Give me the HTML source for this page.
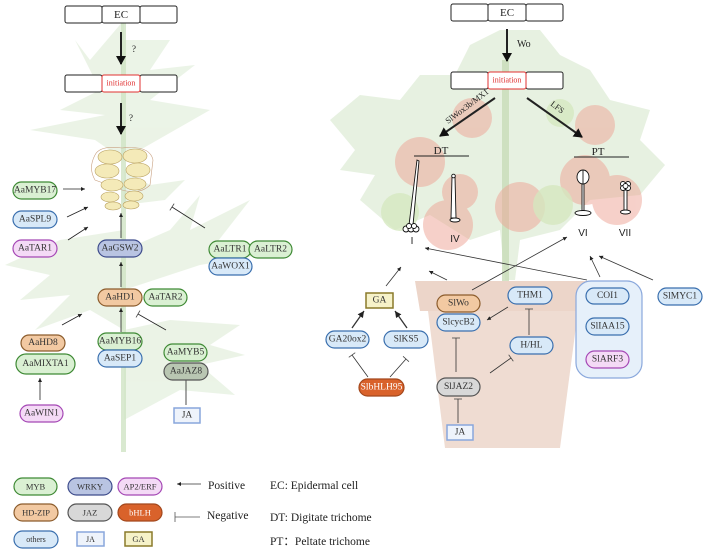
<!DOCTYPE html>
<html><head><meta charset="utf-8"><style>
body{margin:0;background:#fff}
svg{display:block;font-family:"Liberation Serif",serif}
.t{font-size:9.5px;text-anchor:middle;dominant-baseline:central;fill:#333}
</style></head><body>
<svg width="705" height="552" viewBox="0 0 705 552" xmlns="http://www.w3.org/2000/svg">
<defs>
<marker id="a" markerWidth="6" markerHeight="6" refX="5" refY="3" orient="auto"><path d="M0,0.5 L5,3 L0,5.5z" fill="#222"/></marker>
<marker id="A" markerWidth="5" markerHeight="5" refX="4" refY="2.5" orient="auto"><path d="M0,0 L4.5,2.5 L0,5z" fill="#111"/></marker>
<marker id="b" markerWidth="2" markerHeight="10" refX="1" refY="5" orient="auto"><path d="M1,0 L1,10" stroke="#444" stroke-width="1"/></marker>
</defs>

<g opacity="0.5" fill="#d8e9cf" stroke="none">
<path d="M124,20 L90,60 L75,40 L100,90 L60,110 L105,115 L30,130 L95,140 L124,160z"/>
<path d="M124,40 L170,40 L150,70 L195,65 L150,100 L210,110 L140,150 L124,150z"/>
<path d="M124,230 L60,240 L5,265 L50,275 L20,300 L70,295 L35,330 L90,310 L124,330z"/>
<path d="M124,250 L170,230 L200,195 L190,230 L250,200 L215,245 L260,255 L200,265 L124,290z"/>
<path d="M124,330 L170,320 L240,325 L210,345 L245,355 L200,365 L235,395 L180,390 L124,420z"/>
<path d="M124,170 L150,185 L185,180 L165,200 L124,205z"/>
</g>
<rect x="121" y="20" width="5" height="432" fill="#cfe4c4" opacity="0.8"/>

<g opacity="0.55" fill="#d4e6c8">
<path d="M500,30 L470,45 L455,75 L420,75 L400,100 L360,95 L330,120 L355,150 L340,170 L375,175 L360,200 L395,230 L430,215 L470,240 L500,230 L505,280 L515,280 L520,240 L560,230 L590,200 L640,195 L665,165 L640,140 L650,110 L610,100 L590,70 L560,55 L540,30z"/>
</g>
<rect x="502" y="60" width="7" height="222" fill="#c8dcb8" opacity="0.8"/>
<g fill="#eea395" opacity="0.5">
<circle cx="420" cy="162" r="25"/><circle cx="472" cy="118" r="20"/><circle cx="460" cy="192" r="18"/>
<circle cx="448" cy="225" r="25"/><circle cx="520" cy="207" r="25"/><circle cx="595" cy="125" r="20"/>
<circle cx="585" cy="180" r="25"/><circle cx="617" cy="200" r="25"/>
</g>
<g fill="#d6e8c0" opacity="0.8"><circle cx="400" cy="212" r="19"/><circle cx="553" cy="205" r="20"/><circle cx="560" cy="113" r="14"/></g>

<path d="M428,311 L445,448 L560,448 L578,311z" fill="#efdcd2"/>
<path d="M415,281 L622,281 L618,311 L420,311z" fill="#ecd5c9"/>

<g stroke="#222" stroke-width="1" fill="#fff">
<rect x="65" y="6" width="37" height="17" rx="2"/><rect x="102" y="6" width="38" height="17" rx="2"/><rect x="140" y="6" width="37" height="17" rx="2"/>
<rect x="65" y="75" width="37" height="17" rx="2"/><rect x="140" y="75" width="37" height="17" rx="2"/>
</g>
<rect x="102" y="75" width="38" height="17" rx="2" fill="#fff" stroke="#e03030"/>
<text x="121" y="15" class="t" style="font-size:11px;fill:#222">EC</text>
<text x="121" y="83" class="t" style="font-size:8px;fill:#e03030">initiation</text>
<line x1="121" y1="32" x2="121" y2="64" stroke="#222" stroke-width="2" marker-end="url(#A)"/>
<line x1="121" y1="103" x2="121" y2="134" stroke="#222" stroke-width="2" marker-end="url(#A)"/>
<text x="132" y="52" style="font-size:9px;fill:#222">?</text>
<text x="129" y="121" style="font-size:9px;fill:#222">?</text>

<path d="M95,155 Q100,145 122,148 Q150,145 153,160 L150,185 Q140,195 122,190 L95,180 Q88,168 95,155z" fill="none" stroke="#c8a080" stroke-width="0.6"/>
<g fill="#f4eab8" stroke="#b8a060" stroke-width="0.6">
<ellipse cx="110" cy="157" rx="12" ry="7"/><ellipse cx="107" cy="171" rx="12" ry="7"/><ellipse cx="112" cy="185" rx="11" ry="6"/><ellipse cx="110" cy="197" rx="9" ry="5"/><ellipse cx="113" cy="206" rx="8" ry="4"/>
<ellipse cx="135" cy="156" rx="12" ry="7"/><ellipse cx="138" cy="170" rx="12" ry="7"/><ellipse cx="135" cy="184" rx="11" ry="6"/><ellipse cx="134" cy="196" rx="9" ry="5"/><ellipse cx="131" cy="205" rx="8" ry="4"/>
</g>

<g stroke="#222" stroke-width="0.8" fill="none">
<line x1="63" y1="189" x2="85" y2="189" marker-end="url(#a)"/>
<line x1="67" y1="217" x2="88" y2="207" marker-end="url(#a)"/>
<line x1="68" y1="240" x2="88" y2="227" marker-end="url(#a)"/>
<line x1="121" y1="238" x2="121" y2="213" marker-end="url(#a)"/>
<line x1="121" y1="287" x2="121" y2="262" marker-end="url(#a)"/>
<line x1="121" y1="332" x2="121" y2="308" marker-end="url(#a)"/>
<line x1="62" y1="325" x2="82" y2="314" marker-end="url(#a)"/>
<line x1="40" y1="400" x2="40" y2="378" marker-end="url(#a)"/>
<line x1="205" y1="228" x2="172" y2="207" marker-end="url(#b)"/>
<line x1="166" y1="330" x2="138" y2="314" marker-end="url(#b)"/>
<line x1="186" y1="405" x2="186" y2="371" marker-end="url(#b)"/>
</g>

<g stroke-width="1.2">
<g fill="#daf0d3" stroke="#3f8a35">
<rect x="13" y="182" width="44" height="17" rx="8.5"/>
<rect x="209" y="241" width="42" height="17" rx="8.5"/><rect x="249" y="241" width="43" height="17" rx="8.5"/>
<rect x="144" y="289" width="43" height="17" rx="8.5"/>
<rect x="98" y="333" width="44" height="17" rx="8.5"/>
<rect x="164" y="344" width="43" height="17" rx="8.5"/>
<rect x="16" y="354" width="59" height="20" rx="10"/>
<rect x="14" y="478" width="43" height="17" rx="8.5"/>
</g>
<g fill="#d8e9f8" stroke="#3a6fae">
<rect x="13" y="211" width="44" height="17" rx="8.5"/>
<rect x="209" y="258" width="43" height="17" rx="8.5"/>
<rect x="98" y="350" width="44" height="17" rx="8.5"/>
<rect x="326" y="331" width="43" height="17" rx="8.5"/><rect x="384" y="331" width="44" height="17" rx="8.5"/>
<rect x="437" y="314" width="43" height="17" rx="8.5"/>
<rect x="508" y="287" width="44" height="17" rx="8.5"/><rect x="510" y="337" width="43" height="17" rx="8.5"/>
<rect x="576" y="281" width="66" height="97" rx="15" fill="#e6f0fa" stroke="#8aa8dc"/>
<rect x="586" y="288" width="43" height="16" rx="8"/><rect x="586" y="318" width="43" height="17" rx="8.5"/>
<rect x="658" y="288" width="44" height="17" rx="8.5"/>
<rect x="14" y="531" width="44" height="17" rx="8.5"/>
</g>
<g fill="#f4daf6" stroke="#a548b5">
<rect x="13" y="240" width="44" height="17" rx="8.5"/><rect x="20" y="405" width="43" height="17" rx="8.5"/>
<rect x="586" y="351" width="43" height="17" rx="8.5"/><rect x="118" y="478" width="44" height="17" rx="8.5"/>
</g>
<g fill="#b9c4e2" stroke="#3e4c8c"><rect x="98" y="240" width="44" height="17" rx="8.5"/><rect x="68" y="478" width="44" height="17" rx="8.5"/></g>
<g fill="#f2c9a2" stroke="#8c5c2c"><rect x="98" y="289" width="44" height="17" rx="8.5"/><rect x="21" y="335" width="44" height="16" rx="8"/><rect x="437" y="295" width="43" height="17" rx="8.5"/><rect x="14" y="504" width="44" height="17" rx="8.5"/></g>
<g fill="#d8d8d8" stroke="#555"><rect x="164" y="363" width="44" height="17" rx="8.5" fill="#b9c6b2"/><rect x="437" y="378" width="43" height="18" rx="9"/><rect x="68" y="504" width="44" height="17" rx="8.5"/></g>
<g fill="#d9622b" stroke="#a3481d"><rect x="359" y="379" width="45" height="17" rx="8.5"/><rect x="118" y="504" width="44" height="17" rx="8.5"/></g>
<g fill="#eef3fb" stroke="#88a6dc" stroke-width="1.5"><rect x="174" y="408" width="26" height="15"/><rect x="447" y="425" width="26" height="15"/><rect x="77" y="532" width="27" height="14"/></g>
<g fill="#f6f2c9" stroke="#8a7a2a" stroke-width="1.5"><rect x="366" y="293" width="27" height="15"/><rect x="125" y="532" width="27" height="14"/></g>
</g>

<text x="35" y="190.5" class="t">AaMYB17</text>
<text x="35" y="219.5" class="t">AaSPL9</text>
<text x="35" y="248.5" class="t">AaTAR1</text>
<text x="120" y="248.5" class="t">AaGSW2</text>
<text x="230" y="249.5" class="t">AaLTR1</text><text x="270.5" y="249.5" class="t">AaLTR2</text>
<text x="230.5" y="266.5" class="t">AaWOX1</text>
<text x="120" y="297.5" class="t">AaHD1</text><text x="165.5" y="297.5" class="t">AaTAR2</text>
<text x="120" y="341.5" class="t">AaMYB16</text><text x="120" y="358.5" class="t">AaSEP1</text>
<text x="185.5" y="352.5" class="t">AaMYB5</text><text x="186" y="371.5" class="t">AaJAZ8</text>
<text x="187" y="415.5" class="t">JA</text>
<text x="43" y="343" class="t">AaHD8</text><text x="45.5" y="364" class="t">AaMIXTA1</text>
<text x="41.5" y="413.5" class="t">AaWIN1</text>

<g stroke="#222" stroke-width="1" fill="#fff">
<rect x="451" y="4" width="37" height="17" rx="2"/><rect x="488" y="4" width="38" height="17" rx="2"/><rect x="526" y="4" width="37" height="17" rx="2"/>
<rect x="451" y="72" width="37" height="17" rx="2"/><rect x="526" y="72" width="37" height="17" rx="2"/>
</g>
<rect x="488" y="72" width="38" height="17" rx="2" fill="#fff" stroke="#e03030"/>
<text x="507" y="13" class="t" style="font-size:11px;fill:#222">EC</text>
<text x="507" y="80" class="t" style="font-size:8px;fill:#e03030">initiation</text>
<line x1="507" y1="29" x2="507" y2="61" stroke="#222" stroke-width="2" marker-end="url(#A)"/>
<text x="517" y="47" style="font-size:10px;fill:#222">Wo</text>
<line x1="495" y1="98" x2="440" y2="136" stroke="#222" stroke-width="2" marker-end="url(#A)"/>
<line x1="527" y1="98" x2="582" y2="137" stroke="#222" stroke-width="2" marker-end="url(#A)"/>
<text x="0" y="0" transform="translate(448,124) rotate(-37)" style="font-size:8.5px;fill:#222">SlWox3b/MX1</text>
<text x="0" y="0" transform="translate(550,105) rotate(37)" style="font-size:8.5px;fill:#222">LFS</text>
<text x="441" y="151" class="t" style="font-size:11px;fill:#222">DT</text>
<line x1="414" y1="156" x2="469" y2="156" stroke="#222" stroke-width="1"/>
<text x="598" y="152" class="t" style="font-size:11px;fill:#222">PT</text>
<line x1="574" y1="157" x2="629" y2="157" stroke="#222" stroke-width="1"/>

<g fill="#fff" stroke="#111" stroke-width="0.9">
<path d="M417,160 L419,161 L413,225 L409,225z"/>
<circle cx="406" cy="229" r="3"/><circle cx="411" cy="229" r="3"/><circle cx="416" cy="229" r="3"/><circle cx="409" cy="226" r="2.5"/><circle cx="414" cy="226" r="2.5"/>
<path d="M452,177 L455,177 L456,218 L451,218z"/><circle cx="453.5" cy="176" r="1.8"/><ellipse cx="455" cy="220" rx="5" ry="2"/>
<path d="M582,180 L584,180 L584,212 L582,212z"/><ellipse cx="583" cy="177" rx="6" ry="7"/><line x1="583" y1="170" x2="583" y2="184"/><ellipse cx="583" cy="213" rx="8" ry="2.5"/>
<path d="M624,190 L627,190 L627,211 L624,211z"/><circle cx="623" cy="184" r="2.5"/><circle cx="628" cy="184" r="2.5"/><circle cx="623" cy="188" r="2.5"/><circle cx="628" cy="188" r="2.5"/><circle cx="625.5" cy="186" r="2.5"/><ellipse cx="625.5" cy="212" rx="5" ry="2"/>
</g>
<g style="font-family:'Liberation Sans',sans-serif;font-size:10px;fill:#222" text-anchor="middle">
<text x="412" y="244">I</text><text x="455" y="242">IV</text><text x="583" y="236">VI</text><text x="625" y="236">VII</text>
</g>

<g stroke="#333" stroke-width="0.8" fill="none">
<line x1="587" y1="280" x2="425" y2="248" marker-end="url(#a)"/>
<line x1="472" y1="290" x2="567" y2="237" marker-end="url(#a)"/>
<line x1="386" y1="286" x2="401" y2="267" marker-end="url(#a)"/>
<line x1="447" y1="280" x2="429" y2="271" marker-end="url(#a)"/>
<line x1="600" y1="277" x2="590" y2="256" marker-end="url(#a)"/>
<line x1="653" y1="280" x2="599" y2="256" marker-end="url(#a)"/>
<line x1="508" y1="307" x2="487" y2="320" marker-end="url(#a)"/>
<line x1="352" y1="328" x2="364" y2="311" stroke-width="1.3" marker-end="url(#a)"/>
<line x1="407" y1="328" x2="395" y2="311" stroke-width="1.3" marker-end="url(#a)"/>
<line x1="368" y1="377" x2="352" y2="355" marker-end="url(#b)"/>
<line x1="390" y1="377" x2="406" y2="359" marker-end="url(#b)"/>
<line x1="529" y1="335" x2="529" y2="309" marker-end="url(#b)"/>
<line x1="456" y1="372" x2="456" y2="338" marker-end="url(#b)"/>
<line x1="490" y1="373" x2="511" y2="358" marker-end="url(#b)"/>
<line x1="458" y1="423" x2="458" y2="399" marker-end="url(#b)"/>
</g>

<text x="379.5" y="300.5" class="t">GA</text>
<text x="347.5" y="339.5" class="t">GA20ox2</text><text x="406" y="339.5" class="t">SlKS5</text>
<text x="381.5" y="387.5" class="t" style="fill:#fff">SlbHLH95</text>
<text x="458.5" y="303.5" class="t">SlWo</text><text x="458.5" y="322.5" class="t">SlcycB2</text>
<text x="530" y="295.5" class="t">THM1</text><text x="531.5" y="345.5" class="t">H/HL</text>
<text x="458.5" y="387" class="t">SlJAZ2</text><text x="460" y="432.5" class="t">JA</text>
<text x="607.5" y="296" class="t">COI1</text><text x="607.5" y="326.5" class="t">SlIAA15</text><text x="607.5" y="359.5" class="t">SlARF3</text>
<text x="680" y="296.5" class="t">SlMYC1</text>

<g style="font-size:8.5px">
<text x="35.5" y="486.5" class="t" style="font-size:8.5px">MYB</text>
<text x="90" y="486.5" class="t" style="font-size:8.5px">WRKY</text>
<text x="140" y="486.5" class="t" style="font-size:8.5px">AP2/ERF</text>
<text x="36" y="512.5" class="t" style="font-size:8.5px">HD-ZIP</text>
<text x="90" y="512.5" class="t" style="font-size:8.5px">JAZ</text>
<text x="140" y="512.5" class="t" style="font-size:8.5px;fill:#fff">bHLH</text>
<text x="36" y="539.5" class="t" style="font-size:8px">others</text>
<text x="90.5" y="539.5" class="t" style="font-size:8px">JA</text>
<text x="138.5" y="539" class="t" style="font-size:8.5px">GA</text>
</g>
<line x1="201" y1="484" x2="177" y2="484" stroke="#333" stroke-width="0.8" marker-end="url(#a)"/>
<line x1="200" y1="517" x2="175" y2="517" stroke="#555" stroke-width="0.8"/>
<line x1="175" y1="512" x2="175" y2="522" stroke="#555" stroke-width="0.8"/>
<g style="font-size:11.5px;fill:#222">
<text x="208" y="489">Positive</text>
<text x="207" y="519">Negative</text>
<text x="270" y="489">EC: Epidermal cell</text>
<text x="270" y="521">DT: Digitate trichome</text>
<text x="270" y="545">PT：Peltate trichome</text>
</g>
</svg>
</body></html>
